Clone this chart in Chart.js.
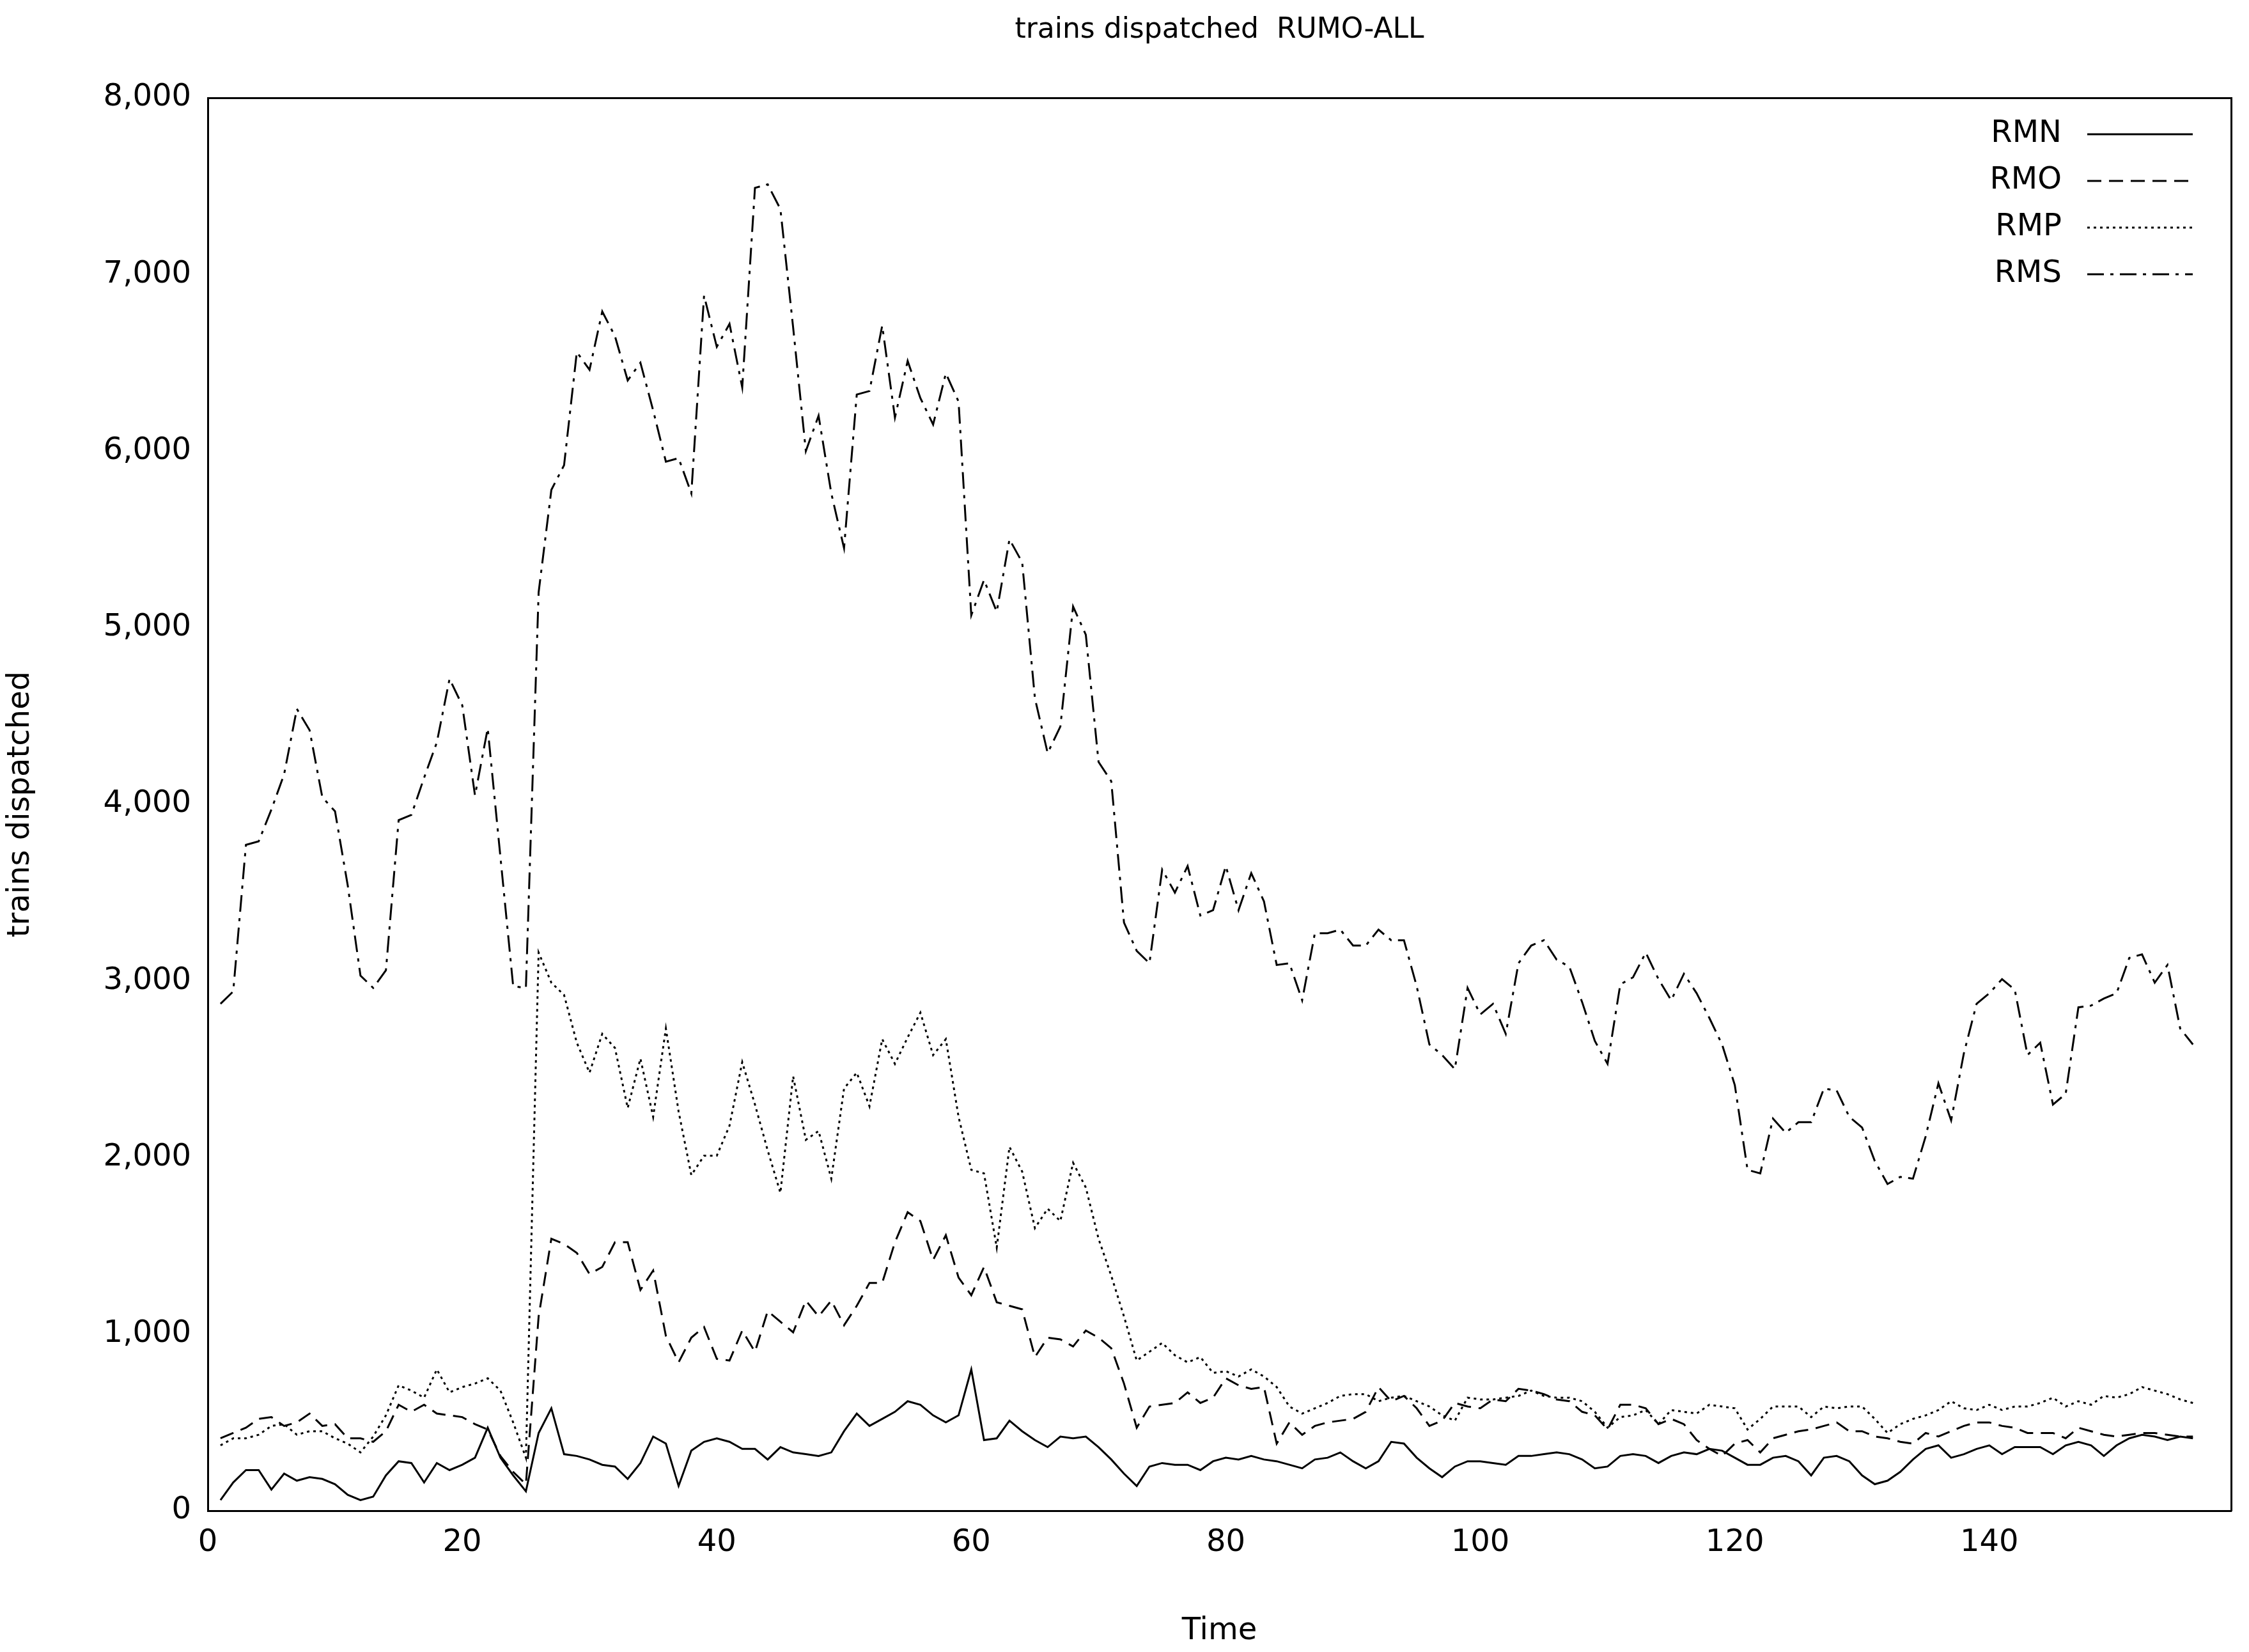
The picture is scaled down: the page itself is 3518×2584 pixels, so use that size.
<!DOCTYPE html>
<html lang="en">
<head>
<meta charset="UTF-8">
<title>trains dispatched RUMO-ALL</title>
<style>
  body { margin: 0; background: #fff; }
  #wrap { width: 3518px; height: 2584px; }
</style>
</head>
<body>
<div id="wrap"><canvas id="chart" width="3518" height="2584"></canvas></div>
<script src="https://cdn.jsdelivr.net/npm/chart.js"></script>
<script>
// values, time steps 1..156
const seriesNames = ['RMN', 'RMO', 'RMP', 'RMS'];
const rmn = [60,160,230,230,120,210,170,190,180,150,90,60,80,200,280,270,160,270,230,260,300,470,300,200,110,440,580,320,310,290,260,250,180,270,420,380,140,340,390,410,390,350,350,290,360,330,320,310,330,450,550,480,520,560,620,600,540,500,540,800,400,410,510,450,400,360,420,410,420,360,290,210,140,250,270,260,260,230,280,300,290,310,290,280,260,240,290,300,330,280,240,280,390,380,300,240,190,250,280,280,270,260,310,310,320,330,320,290,240,250,310,320,310,270,310,330,320,350,340,300,260,260,300,310,280,200,300,310,280,200,150,170,220,290,350,370,300,320,350,370,320,360,360,360,320,370,390,370,310,370,410,430,420,400,420,410];
const rmo = [410,440,470,520,530,480,500,550,480,490,410,410,390,450,600,560,600,550,540,530,490,460,310,220,150,1100,1540,1510,1460,1340,1380,1520,1520,1250,1360,990,840,980,1040,860,850,1020,900,1130,1070,1010,1190,1100,1190,1050,1160,1290,1290,1520,1690,1640,1420,1560,1320,1220,1380,1180,1160,1140,870,980,970,930,1020,980,920,720,470,590,600,610,670,610,640,750,710,690,700,380,500,430,480,500,510,520,560,700,620,650,580,480,510,610,590,580,630,620,690,680,660,630,620,560,540,460,600,600,580,490,520,490,400,350,310,380,400,330,410,430,450,460,480,500,450,450,420,410,390,380,440,420,450,480,500,500,480,470,440,440,440,410,470,450,430,420,430,440,440,430,420,420];
const rmp = [370,410,410,430,480,490,430,450,450,410,380,330,420,540,710,680,640,800,670,700,720,750,680,500,300,3160,2990,2920,2650,2480,2700,2620,2280,2560,2230,2730,2260,1900,2010,2010,2180,2540,2300,2040,1800,2460,2100,2150,1880,2390,2480,2290,2670,2530,2680,2820,2580,2670,2230,1930,1910,1490,2060,1920,1600,1710,1640,1970,1830,1540,1330,1100,850,900,950,880,840,870,780,790,760,800,760,700,590,550,580,610,650,660,660,620,640,650,620,590,540,510,640,630,630,640,650,680,650,640,640,620,560,470,530,540,570,490,570,560,550,600,590,580,460,520,590,590,590,530,590,580,590,590,520,440,490,520,540,570,620,580,570,600,570,590,590,610,640,590,620,600,650,640,660,700,680,660,630,610];
const rms = [2870,2940,3770,3790,3970,4170,4540,4420,4040,3960,3540,3030,2960,3060,3910,3940,4150,4350,4710,4560,4050,4430,3700,2970,2960,5200,5780,5920,6560,6460,6790,6650,6400,6500,6230,5940,5960,5760,6880,6590,6720,6360,7490,7510,7370,6700,6000,6200,5760,5450,6320,6340,6710,6190,6510,6300,6150,6440,6280,5070,5270,5090,5500,5370,4600,4290,4440,5120,4960,4240,4130,3330,3170,3100,3630,3500,3650,3370,3400,3650,3400,3610,3450,3090,3100,2890,3270,3270,3290,3200,3200,3290,3230,3230,2970,2640,2580,2500,2960,2810,2870,2700,3100,3200,3230,3120,3080,2880,2660,2530,2980,3020,3160,3010,2890,3040,2930,2790,2640,2410,1930,1910,2220,2140,2200,2200,2390,2380,2230,2170,1980,1850,1890,1880,2120,2420,2210,2590,2870,2930,3010,2950,2580,2650,2300,2360,2850,2860,2900,2930,3130,3150,2990,3090,2730,2640];
const xTicks = [0, 20, 40, 60, 80, 100, 120, 140];
const yTicks = [0, 1000, 2000, 3000, 4000, 5000, 6000, 7000, 8000];

const font = "'DejaVu Sans', sans-serif";
const dashes = [[], [22, 12], [4, 6], [26, 10, 5, 10]];
const allValues = [rmn, rmo, rmp, rms];

const datasets = seriesNames.map((name, i) => ({
    label: name,
    data: allValues[i].map((v, k) => ({ x: k + 1, y: v })),
    borderColor: '#000',
    borderWidth: 3,
    borderDash: dashes[i],
    pointRadius: 0,
    fill: false,
    tension: 0
}));

// gnuplot-style title + legend drawn on the canvas
const decorations = {
    id: 'decorations',
    afterDraw(chart) {
        const ctx = chart.ctx;
        const area = chart.chartArea;
        ctx.save();
        ctx.fillStyle = '#000';
        ctx.font = '44px ' + font;
        ctx.textAlign = 'center';
        ctx.textBaseline = 'middle';
        ctx.fillText('trains dispatched  RUMO-ALL', (area.left + area.right) / 2, 48);

        ctx.font = '48px ' + font;
        ctx.textAlign = 'right';
        chart.data.datasets.forEach((ds, i) => {
            const y = 210 + i * 73;
            ctx.fillText(ds.label, 3225, y);
            ctx.strokeStyle = '#000';
            ctx.lineWidth = 3;
            ctx.setLineDash(ds.borderDash);
            ctx.beginPath();
            ctx.moveTo(3265, y);
            ctx.lineTo(3430, y);
            ctx.stroke();
        });
        ctx.restore();
    }
};

new Chart(document.getElementById('chart'), {
    type: 'line',
    data: { datasets },
    options: {
        responsive: false,
        animation: false,
        layout: { padding: { top: 153, right: 28, left: 0, bottom: 0 } },
        plugins: { legend: { display: false }, tooltip: { enabled: false } },
        scales: {
            x: {
                type: 'linear',
                min: 0,
                max: 159,
                afterFit(s) { s.height = 221; },
                afterBuildTicks(s) { s.ticks = xTicks.map(v => ({ value: v })); },
                grid: { display: false, drawTicks: true },
                border: { color: '#000', width: 3 },
                ticks: { color: '#000', font: { family: font, size: 48 }, padding: 14, maxRotation: 0 },
                title: { display: true, text: 'Time', color: '#000', font: { family: font, size: 48 }, padding: { top: 30 } }
            },
            y: {
                min: 0,
                max: 8000,
                afterFit(s) { s.width = 325; },
                afterBuildTicks(s) { s.ticks = yTicks.map(v => ({ value: v })); },
                grid: { display: false },
                border: { color: '#000', width: 3 },
                ticks: { color: '#000', font: { family: font, size: 48 }, padding: 18 },
                title: { display: true, text: 'trains dispatched', color: '#000', font: { family: font, size: 48 } }
            },
            x2: {
                type: 'linear', position: 'top', min: 0, max: 159,
                afterFit(s) { s.height = 0; },
                grid: { display: false }, ticks: { display: false },
                border: { color: '#000', width: 3 }
            },
            y2: {
                position: 'right', min: 0, max: 8000,
                afterFit(s) { s.width = 0; },
                grid: { display: false }, ticks: { display: false },
                border: { color: '#000', width: 3 }
            }
        }
    },
    plugins: [decorations]
});
</script>
</body>
</html>
